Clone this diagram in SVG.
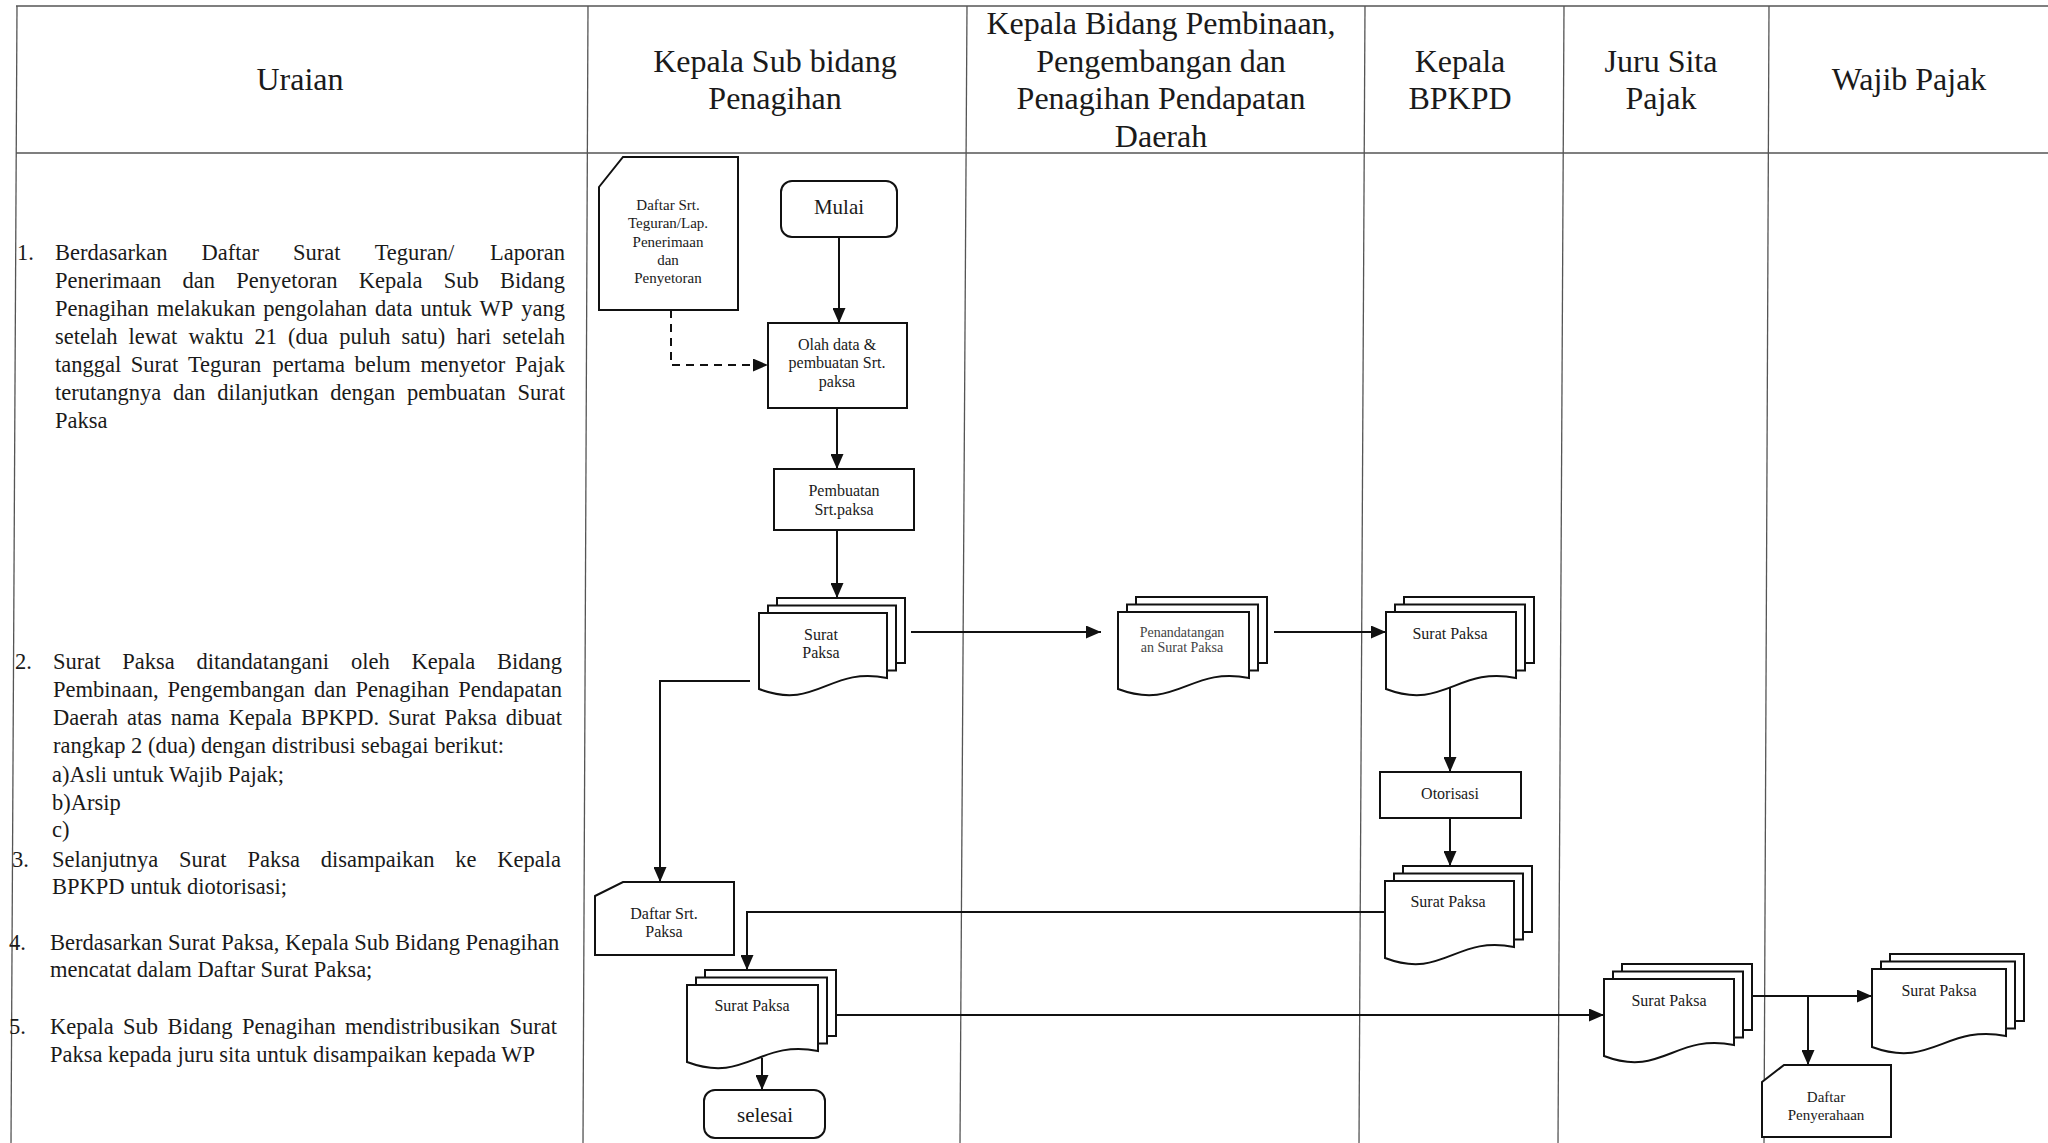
<svg xmlns="http://www.w3.org/2000/svg" width="2048" height="1143" viewBox="0 0 2048 1143">
<defs>
<marker id="arr" markerUnits="userSpaceOnUse" markerWidth="15" markerHeight="13" refX="15" refY="6.5" orient="auto">
<path d="M0,0 L15,6.5 L0,13 Z" fill="#111"/>
</marker>
<style>
.tbl{stroke:#555;stroke-width:1.3;fill:none}
.node{fill:#fff;stroke:#111;stroke-width:2}
.back{fill:none;stroke:#111;stroke-width:2}
.conn{stroke:#111;stroke-width:2;fill:none}
.dash{stroke-dasharray:8,6}
.hdr{font-family:"Liberation Serif",serif;font-size:32px;fill:#1a1a1a;text-anchor:middle}
.body{font-family:"Liberation Serif",serif;font-size:22.5px;fill:#1a1a1a}
.lbl{font-family:"Liberation Serif",serif;font-size:16px;fill:#1a1a1a;text-anchor:middle}
.sm{font-size:15px}
.xs{font-size:14px;fill:#444}
.big{font-size:21px}
</style>
</defs>
<rect width="2048" height="1143" fill="#fff"/>

<g id="table">
<line class="tbl" x1="16" y1="6" x2="2048" y2="6"/>
<line class="tbl" x1="16" y1="153" x2="2048" y2="153"/>
<line class="tbl" x1="17" y1="6" x2="11" y2="1143"/>
<line class="tbl" x1="588" y1="6" x2="583" y2="1143"/>
<line class="tbl" x1="967" y1="6" x2="960" y2="1143"/>
<line class="tbl" x1="1365" y1="6" x2="1359" y2="1143"/>
<line class="tbl" x1="1564" y1="6" x2="1558" y2="1143"/>
<line class="tbl" x1="1769" y1="6" x2="1764" y2="1143"/>
</g>

<g id="headers">
<text class="hdr" x="300" y="90">Uraian</text>
<text class="hdr" x="775" y="72">Kepala Sub bidang</text>
<text class="hdr" x="775" y="109">Penagihan</text>
<text class="hdr" x="1161" y="34">Kepala Bidang Pembinaan,</text>
<text class="hdr" x="1161" y="72">Pengembangan dan</text>
<text class="hdr" x="1161" y="109">Penagihan Pendapatan</text>
<text class="hdr" x="1161" y="147">Daerah</text>
<text class="hdr" x="1460" y="72">Kepala</text>
<text class="hdr" x="1460" y="109">BPKPD</text>
<text class="hdr" x="1661" y="72">Juru Sita</text>
<text class="hdr" x="1661" y="109">Pajak</text>
<text class="hdr" x="1909" y="90">Wajib Pajak</text>
</g>

<g id="uraian">
<text class="body" x="17" y="260">1.</text>
<text class="body" y="260"><tspan x="55">Berdasarkan</tspan><tspan x="201.6">Daftar</tspan><tspan x="293.1">Surat</tspan><tspan x="374.7">Teguran/</tspan><tspan x="490.1">Laporan</tspan></text>
<text class="body" y="288"><tspan x="55">Penerimaan</tspan><tspan x="182.5">dan</tspan><tspan x="236.3">Penyetoran</tspan><tspan x="358.8">Kepala</tspan><tspan x="443.7">Sub</tspan><tspan x="500">Bidang</tspan></text>
<text class="body" y="316"><tspan x="55">Penagihan</tspan><tspan x="156.7">melakukan</tspan><tspan x="263.3">pengolahan</tspan><tspan x="375">data</tspan><tspan x="420.4">untuk</tspan><tspan x="479.6">WP</tspan><tspan x="521.3">yang</tspan></text>
<text class="body" y="344"><tspan x="55">setelah</tspan><tspan x="128.6">lewat</tspan><tspan x="188.4">waktu</tspan><tspan x="254.5">21</tspan><tspan x="288.1">(dua</tspan><tspan x="339.2">puluh</tspan><tspan x="401.6">satu)</tspan><tspan x="456.4">hari</tspan><tspan x="502.5">setelah</tspan></text>
<text class="body" y="372"><tspan x="55">tanggal</tspan><tspan x="130.8">Surat</tspan><tspan x="187.9">Teguran</tspan><tspan x="272.5">pertama</tspan><tspan x="354.6">belum</tspan><tspan x="420.4">menyetor</tspan><tspan x="515">Pajak</tspan></text>
<text class="body" y="400"><tspan x="55">terutangnya</tspan><tspan x="173">dan</tspan><tspan x="217.2">dilanjutkan</tspan><tspan x="330.3">dengan</tspan><tspan x="407">pembuatan</tspan><tspan x="517.5">Surat</tspan></text>
<text class="body" x="55" y="428">Paksa</text>

<text class="body" x="15" y="669">2.</text>
<text class="body" y="669"><tspan x="53">Surat</tspan><tspan x="122.3">Paksa</tspan><tspan x="196.6">ditandatangani</tspan><tspan x="350.9">oleh</tspan><tspan x="411.5">Kepala</tspan><tspan x="497">Bidang</tspan></text>
<text class="body" y="697"><tspan x="53">Pembinaan,</tspan><tspan x="167.6">Pengembangan</tspan><tspan x="314.1">dan</tspan><tspan x="355.6">Penagihan</tspan><tspan x="458.3">Pendapatan</tspan></text>
<text class="body" y="725"><tspan x="53">Daerah</tspan><tspan x="126.9">atas</tspan><tspan x="170.7">nama</tspan><tspan x="228.4">Kepala</tspan><tspan x="301">BPKPD.</tspan><tspan x="388">Surat</tspan><tspan x="444.4">Paksa</tspan><tspan x="505.8">dibuat</tspan></text>
<text class="body" x="53" y="753">rangkap 2 (dua) dengan distribusi sebagai berikut:</text>
<text class="body" x="52" y="782">a)Asli untuk Wajib Pajak;</text>
<text class="body" x="52" y="810">b)Arsip</text>
<text class="body" x="52" y="837">c)</text>

<text class="body" x="12" y="867">3.</text>
<text class="body" y="867"><tspan x="52">Selanjutnya</tspan><tspan x="179.1">Surat</tspan><tspan x="247.4">Paksa</tspan><tspan x="320.7">disampaikan</tspan><tspan x="455.2">ke</tspan><tspan x="497.3">Kepala</tspan></text>
<text class="body" x="52" y="894">BPKPD untuk diotorisasi;</text>

<text class="body" x="9" y="950">4.</text>
<text class="body" x="50" y="950">Berdasarkan Surat Paksa, Kepala Sub Bidang Penagihan</text>
<text class="body" x="50" y="977">mencatat dalam Daftar Surat Paksa;</text>

<text class="body" x="9" y="1034">5.</text>
<text class="body" y="1034"><tspan x="50">Kepala</tspan><tspan x="123.1">Sub</tspan><tspan x="167.6">Bidang</tspan><tspan x="242">Penagihan</tspan><tspan x="345.1">mendistribusikan</tspan><tspan x="509.5">Surat</tspan></text>
<text class="body" x="50" y="1062">Paksa kepada juru sita untuk disampaikan kepada WP</text>
</g>

<g id="connectors">
<line class="conn" x1="839" y1="237" x2="839" y2="323" marker-end="url(#arr)"/>
<path class="conn dash" d="M671,310 V365 H768" marker-end="url(#arr)"/>
<line class="conn" x1="837" y1="408" x2="837" y2="469" marker-end="url(#arr)"/>
<line class="conn" x1="837" y1="530" x2="837" y2="598" marker-end="url(#arr)"/>
<line class="conn" x1="911" y1="632" x2="1101" y2="632" marker-end="url(#arr)"/>
<line class="conn" x1="1274" y1="632" x2="1386" y2="632" marker-end="url(#arr)"/>
<path class="conn" d="M750,681 H660 V882" marker-end="url(#arr)"/>
<line class="conn" x1="1450" y1="684" x2="1450" y2="772" marker-end="url(#arr)"/>
<line class="conn" x1="1450" y1="818" x2="1450" y2="866" marker-end="url(#arr)"/>
<path class="conn" d="M1385,912 H747 V970" marker-end="url(#arr)"/>
<line class="conn" x1="836" y1="1015" x2="1604" y2="1015" marker-end="url(#arr)"/>
<line class="conn" x1="762" y1="1058" x2="762" y2="1090" marker-end="url(#arr)"/>
<line class="conn" x1="1752" y1="996" x2="1872" y2="996" marker-end="url(#arr)"/>
<line class="conn" x1="1808" y1="996" x2="1808" y2="1065" marker-end="url(#arr)"/>
</g>

<g id="daftar-teguran">
<path class="node" d="M599,187 L623,157 H738 V310 H599 Z"/>
<text class="lbl sm" x="668" y="210">Daftar Srt.</text>
<text class="lbl sm" x="668" y="228">Teguran/Lap.</text>
<text class="lbl sm" x="668" y="247">Penerimaan</text>
<text class="lbl sm" x="668" y="265">dan</text>
<text class="lbl sm" x="668" y="283">Penyetoran</text>
</g>

<g id="mulai">
<rect class="node" x="781" y="181" width="116" height="56" rx="11"/>
<text class="lbl big" x="839" y="214">Mulai</text>
</g>

<g id="olah-data">
<rect class="node" x="768" y="323" width="139" height="85"/>
<text class="lbl" x="837" y="350">Olah data &amp;</text>
<text class="lbl" x="837" y="368">pembuatan Srt.</text>
<text class="lbl" x="837" y="387">paksa</text>
</g>

<g id="pembuatan">
<rect class="node" x="774" y="469" width="140" height="61"/>
<text class="lbl" x="844" y="496">Pembuatan</text>
<text class="lbl" x="844" y="515">Srt.paksa</text>
</g>

<g id="surat-paksa-1">
<path class="back" d="M777,605.5 V598 H905 V663 H896"/>
<path class="back" d="M768,613 V605.5 H896 V670.5 H887"/>
<path class="node" d="M759,613 H887 V678 C829,666 817,711 759,689 Z"/>
<text class="lbl" x="821" y="640">Surat</text>
<text class="lbl" x="821" y="658">Paksa</text>
</g>

<g id="penandatanganan">
<path class="back" d="M1136,604.5 V597 H1267 V663 H1258"/>
<path class="back" d="M1127,612 V604.5 H1258 V670.5 H1249"/>
<path class="node" d="M1118,612 H1249 V678 C1190,666 1177,711 1118,689 Z"/>
<text class="lbl xs" x="1182" y="637">Penandatangan</text>
<text class="lbl xs" x="1182" y="652">an Surat Paksa</text>
</g>

<g id="surat-paksa-2">
<path class="back" d="M1404,604.5 V597 H1534 V663 H1525"/>
<path class="back" d="M1395,612 V604.5 H1525 V670.5 H1516"/>
<path class="node" d="M1386,612 H1516 V678 C1458,666 1444,711 1386,689 Z"/>
<text class="lbl" x="1450" y="639">Surat Paksa</text>
</g>

<g id="otorisasi">
<rect class="node" x="1380" y="772" width="141" height="46"/>
<text class="lbl" x="1450" y="799">Otorisasi</text>
</g>

<g id="surat-paksa-3">
<path class="back" d="M1403,873.5 V866 H1532 V932 H1523"/>
<path class="back" d="M1394,881 V873.5 H1523 V939.5 H1514"/>
<path class="node" d="M1385,881 H1514 V947 C1456,935 1443,980 1385,958 Z"/>
<text class="lbl" x="1448" y="907">Surat Paksa</text>
</g>

<g id="daftar-surat-paksa">
<path class="node" d="M595,896 L623,882 H734 V955 H595 Z"/>
<text class="lbl" x="664" y="919">Daftar Srt.</text>
<text class="lbl" x="664" y="937">Paksa</text>
</g>

<g id="surat-paksa-4">
<path class="back" d="M705,977.5 V970 H836 V1036 H827"/>
<path class="back" d="M696,985 V977.5 H827 V1043.5 H818"/>
<path class="node" d="M687,985 H818 V1051 C759,1039 746,1084 687,1062 Z"/>
<text class="lbl" x="752" y="1011">Surat Paksa</text>
</g>

<g id="selesai">
<rect class="node" x="704" y="1090" width="121" height="48" rx="11"/>
<text class="lbl big" x="765" y="1122">selesai</text>
</g>

<g id="surat-paksa-juru-sita">
<path class="back" d="M1622,971.5 V964 H1752 V1030 H1743"/>
<path class="back" d="M1613,979 V971.5 H1743 V1037.5 H1734"/>
<path class="node" d="M1604,979 H1734 V1045 C1675,1033 1662,1078 1604,1056 Z"/>
<text class="lbl" x="1669" y="1006">Surat Paksa</text>
</g>

<g id="surat-paksa-wp">
<path class="back" d="M1890,961.5 V954 H2024 V1021 H2015"/>
<path class="back" d="M1881,969 V961.5 H2015 V1028.5 H2006"/>
<path class="node" d="M1872,969 H2006 V1036 C1946,1024 1932,1069 1872,1047 Z"/>
<text class="lbl" x="1939" y="996">Surat Paksa</text>
</g>

<g id="daftar-penyerahaan">
<path class="node" d="M1762,1082 L1784,1065 H1891 V1137 H1762 Z"/>
<text class="lbl sm" x="1826" y="1102">Daftar</text>
<text class="lbl sm" x="1826" y="1120">Penyerahaan</text>
</g>
</svg>
